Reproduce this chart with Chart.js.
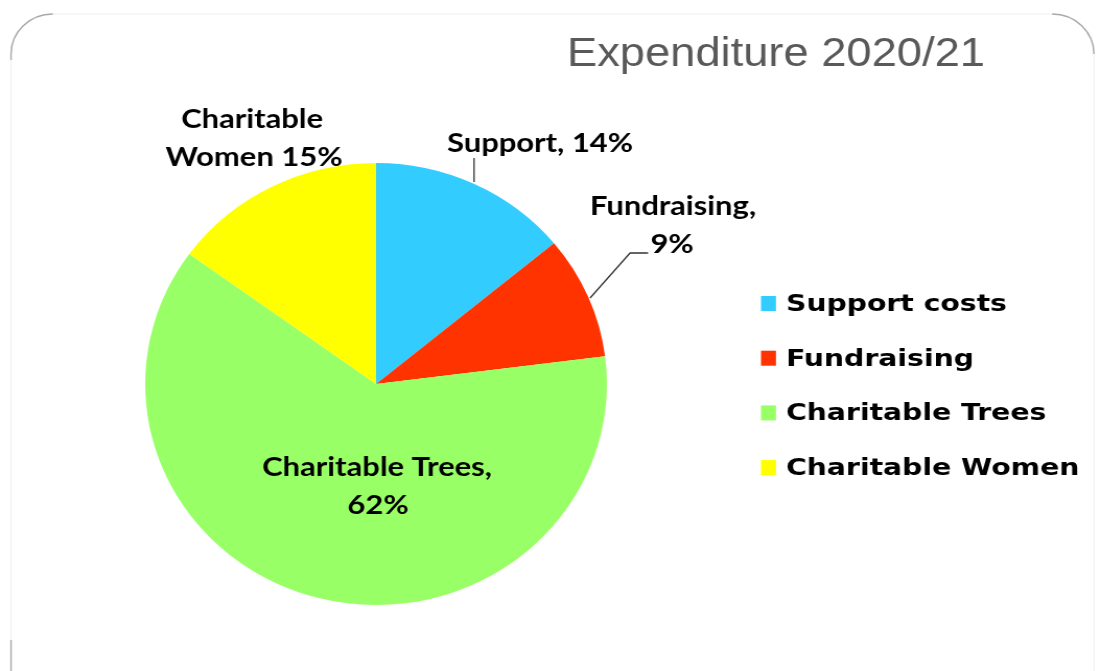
<!DOCTYPE html>
<html>
<head>
<meta charset="utf-8">
<script src="https://cdn.jsdelivr.net/npm/chart.js@4.4.0/dist/chart.umd.min.js"></script>
<style>
  html, body { margin: 0; padding: 0; background: #fff; overflow: hidden; }
  /* the source picture is a little wider than tall, so stretch the canvas sideways */
  #wrap { width: 1053px; height: 671px; transform: scaleX(1.0446); transform-origin: 0 0; }
</style>
</head>
<body>
<div id="wrap"><canvas id="pie"></canvas></div>
<script>
const categories = ['Support costs', 'Fundraising', 'Charitable Trees', 'Charitable Women'];
const shares = [14, 9, 62, 15];
const sliceColours = ['#33CCFF', '#FF3300', '#99FF66', '#FFFF00'];
const titleText = 'Expenditure 2020/21';
const labelLines = [
    ['Support, ' + shares[0] + '%'],
    ['Fundraising,', shares[1] + '%'],
    ['Charitable Trees,', shares[2] + '%'],
    ['Charitable', 'Women ' + shares[3] + '%']
];

const SX = 1100 / 1053;
const px = v => v / SX;   // page x -> canvas x

// where each slice label sits, as page-pixel offsets from the pie centre
const labelSpots = [
    [[164, -232]],
    [[297, -169], [296, -131]],
    [[1, 92], [2, 130]],
    [[-124, -256], [-122, -218]]
];

function drawScaled(ctx, str, x, y, scale, align) {
    ctx.save();
    ctx.translate(x, y);
    ctx.scale(scale, 1);
    ctx.textAlign = align;
    ctx.fillText(str, 0, 0);
    ctx.restore();
}

const extras = {
    id: 'extras',
    beforeDraw(chart) {
        const ctx = chart.ctx;
        const l = px(11), r = px(1094), t = 14, b = 714, rad = 40;
        ctx.save();
        // faint frame, with the corners a bit darker like the slide
        ctx.strokeStyle = '#f0f0f0';
        ctx.lineWidth = 1.2;
        ctx.beginPath();
        ctx.roundRect(l, t, r - l, b - t, rad);
        ctx.stroke();
        ctx.strokeStyle = '#a8a8a8';
        ctx.lineWidth = 1.4;
        ctx.beginPath();
        ctx.moveTo(l, t + rad + 6);
        ctx.arcTo(l, t, l + rad, t, rad);
        ctx.moveTo(r - rad, t);
        ctx.arcTo(r, t, r, t + rad, rad);
        ctx.moveTo(l, 640);
        ctx.lineTo(l, b - rad);
        ctx.arcTo(l, b, l + rad, b, rad);
        ctx.stroke();
        ctx.restore();
    },
    afterDraw(chart) {
        const ctx = chart.ctx;
        const arcs = chart.getDatasetMeta(0).data;
        const ox = arcs[0].x, oy = arcs[0].y;
        ctx.save();
        ctx.textBaseline = 'alphabetic';

        // title
        ctx.fillStyle = '#595959';
        ctx.font = '41px "Liberation Sans", Arial, sans-serif';
        let s = px(418) / ctx.measureText(titleText).width;
        drawScaled(ctx, titleText, px(567), 66, s, 'left');

        // slice labels
        ctx.fillStyle = '#000';
        ctx.font = 'bold 26px Lato, sans-serif';
        s = px(186) / ctx.measureText(labelLines[0][0]).width;
        labelLines.forEach((lines, i) => {
            lines.forEach((t, j) => {
                const p = labelSpots[i][j];
                drawScaled(ctx, t, ox + px(p[0]), oy + p[1], s, 'center');
            });
        });

        // leader lines
        ctx.strokeStyle = '#333';
        ctx.lineWidth = 1.3;
        ctx.beginPath();
        ctx.moveTo(ox + px(98), oy - 226);
        ctx.lineTo(ox + px(98), oy - 202);
        ctx.moveTo(ox + px(272), oy - 131);
        ctx.lineTo(ox + px(254), oy - 131);
        ctx.lineTo(ox + px(214), oy - 86);
        ctx.stroke();

        // legend
        ctx.font = 'bold 23px "DejaVu Sans", sans-serif';
        s = px(221) / ctx.measureText(categories[0]).width;
        categories.forEach((c, i) => {
            const base = 311 + i * 54.7;
            ctx.fillStyle = sliceColours[i];
            ctx.fillRect(px(761), base - 15, px(15), 15);
            ctx.fillStyle = '#000';
            drawScaled(ctx, c, px(786), base, s, 'left');
        });
        ctx.restore();
    }
};

new Chart(document.getElementById('pie'), {
    type: 'pie',
    data: {
        labels: categories,
        datasets: [{
            data: shares,
            backgroundColor: sliceColours,
            borderWidth: 0
        }]
    },
    options: {
        responsive: true,
        maintainAspectRatio: false,
        animation: false,
        layout: { padding: { left: 139, top: 163, right: 472, bottom: 66 } },
        plugins: {
            legend: { display: false },
            tooltip: { enabled: false },
            title: { display: false }
        }
    },
    plugins: [extras]
});
</script>
</body>
</html>
